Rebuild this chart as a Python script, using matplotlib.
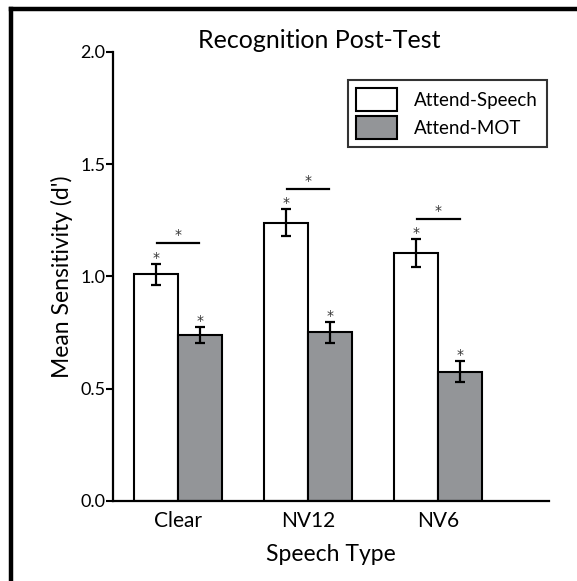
import numpy as np
import matplotlib.pyplot as plt
from matplotlib.lines import Line2D
from matplotlib.patches import Patch

plt.rcParams['font.family'] = ['Lato', 'DejaVu Sans']

# Data
speech_types = ["Clear", "NV12", "NV6"]
attend_speech = [1.01, 1.24, 1.105]
attend_speech_err = [0.047, 0.06, 0.063]
attend_mot = [0.739, 0.751, 0.576]
attend_mot_err = [0.036, 0.047, 0.047]
sig_line_y = [1.151, 1.39, 1.258]

gray = '#939598'
x = np.arange(len(speech_types))
w = 0.34

fig = plt.figure(figsize=(5.77, 5.81), dpi=100)
ax = fig.add_axes([0.1958, 0.1377, 0.755, 0.7728])

ax.bar(x - w / 2, attend_speech, w, color='white', edgecolor='black', linewidth=1.5,
       label='Attend-Speech', zorder=2)
ax.bar(x + w / 2, attend_mot, w, color=gray, edgecolor='black', linewidth=1.5,
       label='Attend-MOT', zorder=2)
ax.errorbar(x - w / 2, attend_speech, yerr=attend_speech_err, fmt='none', ecolor='black',
            elinewidth=1.6, capsize=3.3, capthick=1.6, zorder=3)
ax.errorbar(x + w / 2, attend_mot, yerr=attend_mot_err, fmt='none', ecolor='black',
            elinewidth=1.6, capsize=3.3, capthick=1.6, zorder=3)

# asterisks over each bar
star = dict(ha='center', va='bottom', fontsize=10, color='#333333', family='DejaVu Sans')
for xi, v, e in zip(x - w / 2, attend_speech, attend_speech_err):
    ax.text(xi, v + e - 0.005, '*', **star)
for xi, v, e in zip(x + w / 2, attend_mot, attend_mot_err):
    ax.text(xi, v + e - 0.005, '*', **star)

# significance lines between pairs
for xi, ly in zip(x, sig_line_y):
    ax.plot([xi - 0.165, xi + 0.165], [ly, ly], color='black', lw=1.6)
    ax.text(xi, ly + 0.003, '*', **star)

ax.set_xlim(-0.5, 2.85)
ax.set_ylim(0, 2.0)
ax.set_yticks([0.0, 0.5, 1.0, 1.5, 2.0])
ax.set_yticklabels(['0.0', '0.5', '1.0', '1.5', '2.0'])
ax.set_xticks(x)
ax.set_xticklabels(speech_types)
ax.tick_params(axis='y', direction='out', length=5, width=1.5, labelsize=13, pad=0.5)
ax.tick_params(axis='x', length=0, labelsize=15, pad=7.5)
for s in ['top', 'right']:
    ax.spines[s].set_visible(False)
for s in ['left', 'bottom']:
    ax.spines[s].set_linewidth(1.6)

ax.set_ylabel("Mean Sensitivity (d')", fontsize=16.5, labelpad=5.5)
ax.set_xlabel("Speech Type", fontsize=16.5, labelpad=9)
fig.text(0.553, 0.93, "Recognition Post-Test", ha='center', va='center', fontsize=18)

handles = [Patch(facecolor='white', edgecolor='black', linewidth=1.5),
           Patch(facecolor=gray, edgecolor='black', linewidth=1.5)]
leg = ax.legend(handles, ['Attend-Speech', 'Attend-MOT'], loc='upper right',
                bbox_to_anchor=(0.9955, 0.9376), borderaxespad=0, fontsize=13.5,
                frameon=True, fancybox=False, edgecolor='black', handlelength=2.2,
                handleheight=1.5, borderpad=0.45, labelspacing=0.25, handletextpad=0.9)
leg.get_frame().set_linewidth(1.5)

# frame lines (left and top)
fig.add_artist(Line2D([0.0194, 0.0194], [0, 0.9845], transform=fig.transFigure,
                      color='black', lw=3.2, solid_capstyle='projecting'))
fig.add_artist(Line2D([0.0194, 1.0], [0.9845, 0.9845], transform=fig.transFigure,
                      color='black', lw=3.2, solid_capstyle='projecting'))

fig.savefig("out.png", dpi=100)
